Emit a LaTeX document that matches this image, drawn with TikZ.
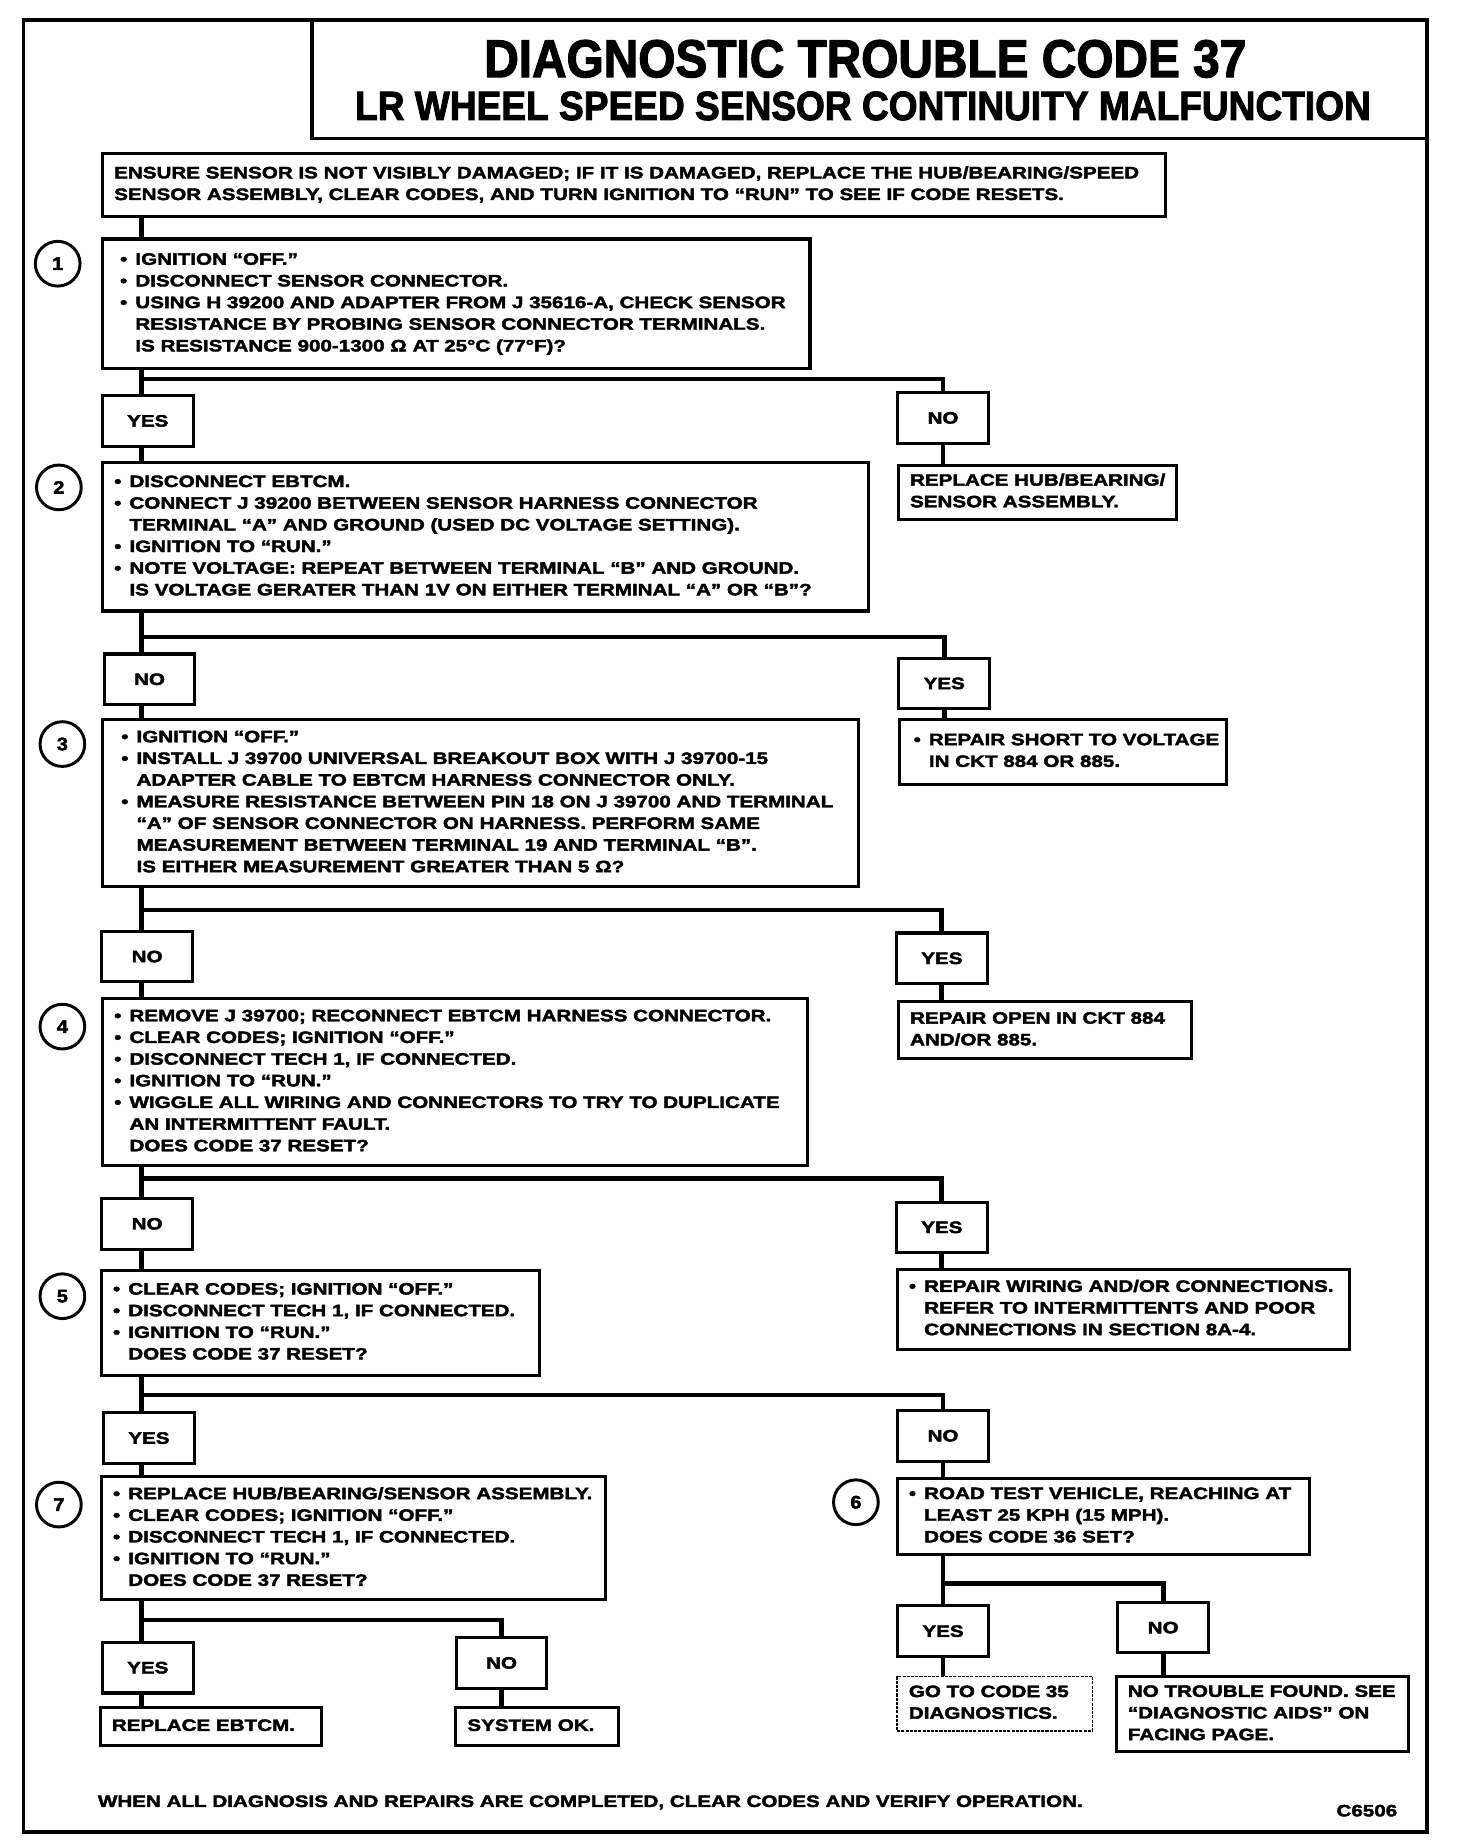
\documentclass[tikz,border=0pt]{standalone}
\usepackage{fontspec}
\setmainfont{Liberation Sans}
\newfontfamily\bodyf{Liberation Sans}[FakeStretch=1.25, FakeBold=2.4]
\newfontfamily\numf{Liberation Sans}[FakeStretch=1.1, FakeBold=2.4]
\newfontfamily\titlef{Liberation Sans}[FakeBold=2.4]
\newcommand\bodyfont{\bodyf\bfseries\fontsize{14}{18.4}\selectfont}
\newcommand\numfont{\numf\bfseries\fontsize{15.5}{16}\selectfont}
\newcommand\bu{\makebox[13pt][l]{•}}
\newcommand\ii{\hspace*{13pt}}
\newcommand\bx[7][10]{%
  \pgfmathsetmacro\bxw{#5-#3}%
  \pgfmathsetmacro\bxh{#6-#4}%
  \pgfmathsetmacro\bxt{#5-#3-2*#1}%
  \node[box, inner xsep=#1pt, minimum width=\bxw pt, minimum height=\bxh pt] (#2) at (#3,#4)
    {\makebox[\bxt pt][l]{\begin{tabular}{@{}l@{}}#7\end{tabular}}};}
\begin{document}
\begin{tikzpicture}[x=1pt,y=-1pt,
  box/.style={draw, line width=2.6pt, anchor=north west, outer sep=0pt, inner ysep=0pt, font=\bodyfont},
  ynbox/.style={draw, line width=2.6pt, outer sep=0pt, minimum width=77pt, minimum height=43pt, inner sep=0pt, font=\bodyfont},
  numc/.style={draw, circle, line width=2.5pt, minimum size=38pt, inner sep=0pt, outer sep=0pt, font=\numfont},
  conn/.style={line width=4pt},
  frame/.style={line width=2.8pt}]
\useasboundingbox (0,0) rectangle (1237,1568);
\fill[white] (0,0) rectangle (1237,1568);
% frame and title
\draw[frame] (20,17) rectangle (1212,1556);
\node[draw, line width=2.6pt, anchor=north west, outer sep=0pt, minimum width=947pt, minimum height=101pt] (title) at (265,17) {};
\node[font=\titlef\bfseries\fontsize{41}{44}\selectfont, inner sep=0pt] (t1) at (735,50) {\scalebox{0.99}[1.1]{DIAGNOSTIC TROUBLE CODE 37}};
\node[font=\titlef\bfseries\fontsize{31.5}{34}\selectfont, inner sep=0pt] (t2) at (733,90) {\scalebox{1}[1.1]{LR WHEEL SPEED SENSOR CONTINUITY MALFUNCTION}};
% columns
\coordinate (colL) at (120,0);
% intro
\bx{intro}{87}{130}{990}{184}{ENSURE SENSOR IS NOT VISIBLY DAMAGED; IF IT IS DAMAGED, REPLACE THE HUB/BEARING/SPEED\\SENSOR ASSEMBLY, CLEAR CODES, AND TURN IGNITION TO “RUN” TO SEE IF CODE RESETS.}
% step 1
\node[numc] (s1) at (49,224) {1};
\bx[15]{b1}{87}{203}{688}{313}{\bu IGNITION “OFF.”\\
\bu DISCONNECT SENSOR CONNECTOR.\\
\bu USING H 39200 AND ADAPTER FROM J 35616-A, CHECK SENSOR\\
\ii RESISTANCE BY PROBING SENSOR CONNECTOR TERMINALS.\\
\ii IS RESISTANCE 900-1300 Ω AT 25°C (77°F)?}
\node[ynbox] (y1) at (125.5,357.5) {YES};
\node[ynbox] (n1) at (801,355) {NO};
\bx{r1}{763}{395}{999}{441}{REPLACE HUB/BEARING/\\SENSOR ASSEMBLY.}
% step 2
\node[numc] (s2) at (50,414) {2};
\bx{b2}{87}{393}{738}{519}{\bu DISCONNECT EBTCM.\\
\bu CONNECT J 39200 BETWEEN SENSOR HARNESS CONNECTOR\\
\ii TERMINAL “A” AND GROUND (USED DC VOLTAGE SETTING).\\
\bu IGNITION TO “RUN.”\\
\bu NOTE VOLTAGE: REPEAT BETWEEN TERMINAL “B” AND GROUND.\\
\ii IS VOLTAGE GERATER THAN 1V ON EITHER TERMINAL “A” OR “B”?}
\node[ynbox] (n2) at (127,577) {NO};
\node[ynbox] (y2) at (802,580.5) {YES};
\bx[12]{r2}{764}{611}{1042}{666}{\bu REPAIR SHORT TO VOLTAGE\\\ii IN CKT 884 OR 885.}
% step 3
\node[numc] (s3) at (53,632) {3};
\bx[16]{b3}{87}{611}{729}{753}{\bu IGNITION “OFF.”\\
\bu INSTALL J 39700 UNIVERSAL BREAKOUT BOX WITH J 39700-15\\
\ii ADAPTER CABLE TO EBTCM HARNESS CONNECTOR ONLY.\\
\bu MEASURE RESISTANCE BETWEEN PIN 18 ON J 39700 AND TERMINAL\\
\ii “A” OF SENSOR CONNECTOR ON HARNESS. PERFORM SAME\\
\ii MEASUREMENT BETWEEN TERMINAL 19 AND TERMINAL “B”.\\
\ii IS EITHER MEASUREMENT GREATER THAN 5 Ω?}
\node[ynbox] (n3) at (125,812.5) {NO};
\node[ynbox] (y3) at (800,814) {YES};
\bx{r3}{763}{851}{1012}{899}{REPAIR OPEN IN CKT 884\\AND/OR 885.}
% step 4
\node[numc] (s4) at (53,872) {4};
\bx{b4}{87}{848}{686}{990}{\bu REMOVE J 39700; RECONNECT EBTCM HARNESS CONNECTOR.\\
\bu CLEAR CODES; IGNITION “OFF.”\\
\bu DISCONNECT TECH 1, IF CONNECTED.\\
\bu IGNITION TO “RUN.”\\
\bu WIGGLE ALL WIRING AND CONNECTORS TO TRY TO DUPLICATE\\
\ii AN INTERMITTENT FAULT.\\
\ii DOES CODE 37 RESET?}
\node[ynbox] (n4) at (125,1039.5) {NO};
\node[ynbox] (y4) at (800,1042.5) {YES};
\bx{r4}{762}{1078}{1146}{1146}{\bu REPAIR WIRING AND/OR CONNECTIONS.\\
\ii REFER TO INTERMITTENTS AND POOR\\
\ii CONNECTIONS IN SECTION 8A-4.}
% step 5
\node[numc] (s5) at (53,1101) {5};
\bx{b5}{86}{1079}{458}{1168}{\bu CLEAR CODES; IGNITION “OFF.”\\
\bu DISCONNECT TECH 1, IF CONNECTED.\\
\bu IGNITION TO “RUN.”\\
\ii DOES CODE 37 RESET?}
\node[ynbox] (y5) at (126.5,1221.5) {YES};
\node[ynbox] (n5) at (801,1219.5) {NO};
% step 7
\node[numc] (s7) at (50,1278) {7};
\bx{b7}{86}{1254}{514}{1359}{\bu REPLACE HUB/BEARING/SENSOR ASSEMBLY.\\
\bu CLEAR CODES; IGNITION “OFF.”\\
\bu DISCONNECT TECH 1, IF CONNECTED.\\
\bu IGNITION TO “RUN.”\\
\ii DOES CODE 37 RESET?}
\node[ynbox] (y7) at (125.5,1416.5) {YES};
\node[ynbox] (n7) at (426,1412.5) {NO};
\bx{re}{85}{1450}{273}{1483}{REPLACE EBTCM.}
\bx{sok}{387}{1450}{525}{1483}{SYSTEM OK.}
% step 6
\node[numc] (s6) at (727,1276) {6};
\bx{b6}{762}{1256}{1112}{1320}{\bu ROAD TEST VEHICLE, REACHING AT\\
\ii LEAST 25 KPH (15 MPH).\\
\ii DOES CODE 36 SET?}
\node[ynbox] (y6) at (801,1385.5) {YES};
\node[ynbox] (n6) at (988,1382.5) {NO};
\begin{scope}[box/.append style={densely dotted, line width=1.5pt}]
\bx{r6a}{762}{1424}{928}{1470}{GO TO CODE 35\\DIAGNOSTICS.}
\end{scope}
\bx{r6b}{948}{1424}{1196}{1488}{NO TROUBLE FOUND. SEE\\“DIAGNOSTIC AIDS” ON\\FACING PAGE.}
% footer
\node[font=\bodyfont, anchor=west, inner sep=0pt] (foot) at (83,1531) {WHEN ALL DIAGNOSIS AND REPAIRS ARE COMPLETED, CLEAR CODES AND VERIFY OPERATION.};
\node[font=\bodyfont, anchor=east, inner sep=0pt] (code) at (1187,1538) {C6506};
% connectors
\coordinate (j1) at (120,322);
\coordinate (j2) at (120,541);
\coordinate (j3) at (120,773);
\coordinate (j4) at (120,1001);
\coordinate (j5) at (120,1185);
\coordinate (j7) at (120,1376);
\coordinate (j6) at (801,1345);
\draw[conn] (intro.south -| colL) -- (b1.north -| colL);
\draw[conn] (b1.south -| colL) -- (y1.north -| colL);
\draw[conn] (j1) -| (n1.north);
\draw[conn] (n1.south) -- (r1.north -| n1.south);
\draw[conn] (y1.south -| colL) -- (b2.north -| colL);
\draw[conn] (b2.south -| colL) -- (n2.north -| colL);
\draw[conn] (j2) -| (y2.north);
\draw[conn] (y2.south) -- (r2.north -| y2.south);
\draw[conn] (n2.south -| colL) -- (b3.north -| colL);
\draw[conn] (b3.south -| colL) -- (n3.north -| colL);
\draw[conn] (j3) -| (y3.north);
\draw[conn] (y3.south) -- (r3.north -| y3.south);
\draw[conn] (n3.south -| colL) -- (b4.north -| colL);
\draw[conn] (b4.south -| colL) -- (n4.north -| colL);
\draw[conn] (j4) -| (y4.north);
\draw[conn] (y4.south) -- (r4.north -| y4.south);
\draw[conn] (n4.south -| colL) -- (b5.north -| colL);
\draw[conn] (b5.south -| colL) -- (y5.north -| colL);
\draw[conn] (j5) -| (n5.north);
\draw[conn] (n5.south) -- (b6.north -| n5.south);
\draw[conn] (y5.south -| colL) -- (b7.north -| colL);
\draw[conn] (b7.south -| colL) -- (y7.north -| colL);
\draw[conn] (j7) -| (n7.north);
\draw[conn] (y7.south -| colL) -- (re.north -| colL);
\draw[conn] (n7.south) -- (sok.north -| n7.south);
\draw[conn] (b6.south -| j6) -- (y6.north -| j6);
\draw[conn] (j6) -| (n6.north);
\draw[conn] (y6.south -| j6) -- (r6a.north -| j6);
\draw[conn] (n6.south) -- (r6b.north -| n6.south);
\end{tikzpicture}
\end{document}
